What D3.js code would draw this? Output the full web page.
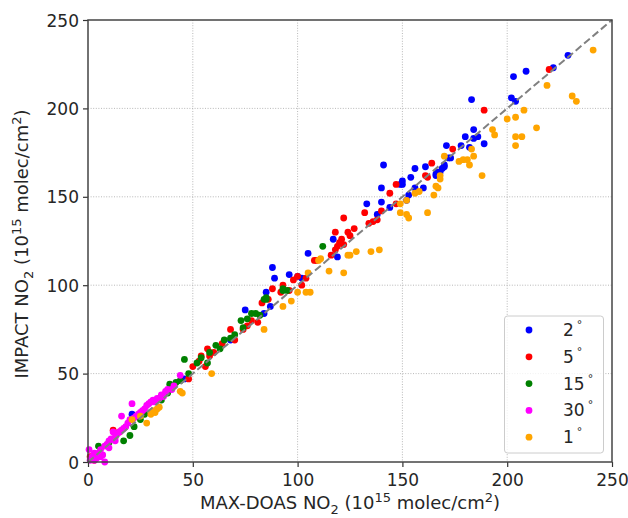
<!DOCTYPE html>
<html><head><meta charset="utf-8">
<script src="https://cdn.jsdelivr.net/npm/d3@7"></script>
<style>
body{margin:0;background:#fff;}
text{font-family:"DejaVu Sans",sans-serif;fill:#262626;}
</style></head>
<body><svg id="c" width="628" height="518"></svg>
<script>
const ticks = [0, 50, 100, 150, 200, 250];
const seriesNames = ["2", "5", "15", "30", "1"];
const seriesColors = ["#0000ff", "#ff0000", "#008000", "#ff00ff", "#ffa500"];

const blue2 = [[229,230],[222,223],[203,218],[209,221],[202,206],[204,204],[183,205],[184,188],[180,184],[184,183],[186,184],[189,180],[182,178],[178,179],[171,179],[172,172],[170,168],[169,166],[167,164],[166,162],[161,167],[156,166],[154,161],[150,159],[150,157],[141,168],[140,155],[156,155],[160,155],[153,151],[152,148],[133,146],[140,147],[144,144],[138,140],[117,126],[119,116],[105,118],[88,110],[89,104],[96,106],[102,104],[85,96],[87,88],[75,86],[84,84],[68,69],[21,27],[46,47],[149,157],[166,163],[173,172],[168,164],[170,167],[100,105]];
const red5 = [[220,222],[189,199],[174,177],[164,169],[162,161],[161,162],[147,157],[144,152],[132,141],[122,138],[127,132],[124,130],[118,130],[119,122],[120,124],[121,126],[122,123],[136,136],[134,135],[138,137],[140,142],[147,146],[116,117],[109,114],[108,114],[102,100],[100,105],[98,103],[93,100],[92,96],[88,98],[83,90],[81,79],[74,75],[70,69],[68,75],[58,60],[57,64],[54,60],[56,54],[53,57],[50,54],[48,47],[12,18],[15,17],[1,3],[3,1],[60,62],[64,67],[78,80],[86,92],[96,97],[104,104],[125,128],[118,120],[76,77]];
const green15 = [[112,122],[85,93],[84,92],[93,98],[93,97],[85,92],[80,84],[76,81],[73,80],[74,76],[65,69],[61,66],[58,62],[54,59],[52,56],[57,56],[46,58],[44,46],[39,44],[38,39],[20,15],[17,12],[5,9],[10,11],[25,24],[30,28],[35,35],[42,45],[68,70],[70,72],[63,64],[48,50],[78,84],[82,83],[95,97],[22,20],[27,27]];
const magenta30 = [[0.5,7],[2,3],[3,5],[4,2],[5,5],[6,7],[7,4],[8,0],[8,9],[9,10],[10,8],[10,12],[11,13],[12,17],[13,14],[14,16],[15,17],[16,18],[17,19],[16,26],[18,20],[19,22],[20,24],[21,24],[21,33],[22,25],[23,26],[24,27],[25,28],[26,29],[27,30],[28,32],[29,33],[30,34],[31,35],[32,34],[33,36],[34,36],[35,38],[36,37],[37,40],[38,41],[40,41],[44,49],[41,43],[3,1],[1,1],[13,12],[6,3]];
const orange1 = [[241,233],[219,213],[231,207],[233,204],[208,199],[200,194],[204,195],[214,189],[193,188],[194,185],[204,184],[207,184],[204,179],[183,177],[184,173],[177,170],[179,171],[181,171],[182,168],[188,162],[170,173],[168,162],[168,160],[167,155],[166,156],[165,151],[158,153],[156,152],[152,148],[149,146],[149,141],[152,140],[153,138],[162,141],[135,119],[139,120],[124,117],[125,117],[128,119],[122,107],[115,108],[111,115],[110,114],[106,96],[105,107],[100,96],[104,96],[97,91],[93,88],[84,75],[59,50],[45,39],[44,40],[28,22],[25,26],[30,27],[32,28],[33,30],[34,31],[21,24],[31,29]];

const allSeries = [blue2, red5, green15, magenta30, orange1];

const svg = d3.select("#c");
const L = 88, R = 612, T = 20, B = 462;
const x = d3.scaleLinear().domain([0, 250]).range([L, R]);
const y = d3.scaleLinear().domain([0, 250]).range([B, T]);

// grid
const g = svg.append("g");
ticks.slice(1, -1).forEach(t => {
  g.append("line").attr("x1", x(t)).attr("x2", x(t)).attr("y1", T).attr("y2", B)
    .attr("stroke", "#b0b0b0").attr("stroke-width", 0.9).attr("stroke-dasharray", "1,1.6");
  g.append("line").attr("y1", y(t)).attr("y2", y(t)).attr("x1", L).attr("x2", R)
    .attr("stroke", "#b0b0b0").attr("stroke-width", 0.9).attr("stroke-dasharray", "1,1.6");
});

// points
allSeries.forEach((s, i) => {
  svg.append("g").selectAll("circle").data(s).join("circle")
    .attr("cx", d => x(d[0])).attr("cy", d => y(d[1])).attr("r", 3.4)
    .attr("fill", seriesColors[i]);
});

// 1:1 line
svg.append("line").attr("x1", x(0)).attr("y1", y(0)).attr("x2", x(250)).attr("y2", y(250))
  .attr("stroke", "#808080").attr("stroke-width", 2).attr("stroke-dasharray", "7.5,3.5");

// axes
const xa = svg.append("g").attr("transform", `translate(0,${B})`)
  .call(d3.axisBottom(x).tickValues(ticks).tickSize(5).tickPadding(4).tickFormat(d3.format("d")));
const ya = svg.append("g").attr("transform", `translate(${L},0)`)
  .call(d3.axisLeft(y).tickValues(ticks).tickSize(5).tickPadding(4).tickFormat(d3.format("d")));
[xa, ya].forEach(a => {
  a.select(".domain").remove();
  a.selectAll("line").attr("stroke", "#333").attr("stroke-width", 1.2);
  a.selectAll("text").style("font-size", "17px").style("font-family", "DejaVu Sans").attr("fill", "#262626");
});
xa.selectAll("text").attr("dy", "0.9em");
ya.selectAll("text").attr("dy", "0.36em");

// frame
svg.append("rect").attr("x", L).attr("y", T).attr("width", R - L).attr("height", B - T)
  .attr("fill", "none").attr("stroke", "#444").attr("stroke-width", 1.5);

// axis labels
function label(el) {
  el.append("tspan").text("NO");
  el.append("tspan").attr("dy", 5).style("font-size", "13px").text("2");
  el.append("tspan").attr("dy", -5).text(" (10");
  el.append("tspan").attr("dy", -7).style("font-size", "13px").text("15");
  el.append("tspan").attr("dy", 7).text(" molec/cm");
  el.append("tspan").attr("dy", -7).style("font-size", "13px").text("2");
  el.append("tspan").attr("dy", 7).text(")");
}
const xl = svg.append("text").attr("x", (L + R) / 2).attr("y", 509).attr("text-anchor", "middle").style("font-size", "18px");
xl.append("tspan").text("MAX-DOAS ");
label(xl);
const yl = svg.append("text").attr("transform", `translate(28,${(T + B) / 2 + 3}) rotate(-90)`).attr("text-anchor", "middle").style("font-size", "18px");
yl.append("tspan").text("IMPACT ");
label(yl);

// legend
const lg = svg.append("g");
lg.append("rect").attr("x", 504.5).attr("y", 316).attr("width", 99).attr("height", 137).attr("rx", 3)
  .attr("fill", "#fff").attr("fill-opacity", 0.8).attr("stroke", "#ccc").attr("stroke-width", 1);
seriesNames.forEach((n, i) => {
  const yy = 330 + i * 26.8;
  lg.append("circle").attr("cx", 529).attr("cy", yy).attr("r", 3.4).attr("fill", seriesColors[i]);
  const t = lg.append("text").attr("x", 563).attr("y", yy + 6).style("font-size", "17px");
  t.append("tspan").text(n);
  t.append("tspan").attr("dx", 3).attr("dy", -8).style("font-size", "11px").text("°");
});
</script></body></html>
